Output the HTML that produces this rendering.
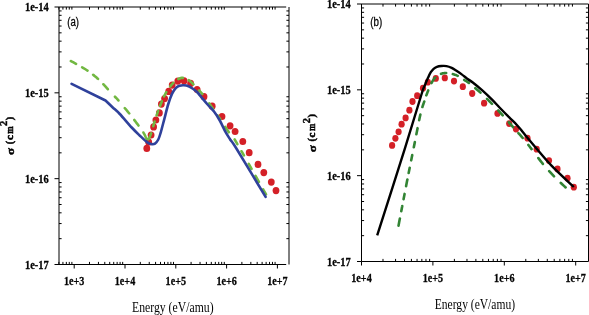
<!DOCTYPE html><html><head><meta charset="utf-8"><style>html,body{margin:0;padding:0;background:#fff;overflow:hidden}svg{display:block}</style></head><body><svg width="589" height="315" viewBox="0 0 589 315"><rect width="589" height="315" fill="#fff"/><g fill="#d42027"><ellipse cx="146.8" cy="148.4" rx="3.4" ry="3.6"/><ellipse cx="148.7" cy="142.2" rx="3.4" ry="3.6"/><ellipse cx="151.1" cy="135.0" rx="3.4" ry="3.6"/><ellipse cx="153.6" cy="126.9" rx="3.4" ry="3.6"/><ellipse cx="155.9" cy="120.0" rx="3.4" ry="3.6"/><ellipse cx="159.4" cy="112.9" rx="3.4" ry="3.6"/><ellipse cx="161.4" cy="104.1" rx="3.4" ry="3.6"/><ellipse cx="164.6" cy="98.6" rx="3.4" ry="3.6"/><ellipse cx="168.7" cy="91.4" rx="3.4" ry="3.6"/><ellipse cx="172.2" cy="85.1" rx="3.4" ry="3.6"/><ellipse cx="177.8" cy="81.1" rx="3.4" ry="3.6"/><ellipse cx="184.1" cy="80.8" rx="3.4" ry="3.6"/><ellipse cx="190.6" cy="83.4" rx="3.4" ry="3.6"/><ellipse cx="197.1" cy="89.5" rx="3.4" ry="3.6"/><ellipse cx="204.0" cy="96.7" rx="3.4" ry="3.6"/><ellipse cx="212.2" cy="106.2" rx="3.4" ry="3.6"/><ellipse cx="222.0" cy="116.5" rx="3.4" ry="3.6"/><ellipse cx="230.1" cy="125.8" rx="3.4" ry="3.6"/><ellipse cx="235.1" cy="131.5" rx="3.4" ry="3.6"/><ellipse cx="242.8" cy="141.5" rx="3.4" ry="3.6"/><ellipse cx="249.2" cy="152.7" rx="3.4" ry="3.6"/><ellipse cx="258.0" cy="164.4" rx="3.4" ry="3.6"/><ellipse cx="263.8" cy="172.6" rx="3.4" ry="3.6"/><ellipse cx="271.3" cy="182.1" rx="3.4" ry="3.6"/><ellipse cx="276.0" cy="190.6" rx="3.4" ry="3.6"/></g><path d="M70.87,61.03L70.95,61.07L71.59,61.42L72.31,61.81L73.08,62.23L73.89,62.68L74.72,63.13L75.55,63.59L76.04,63.86M82.15,67.28L82.21,67.32L83.02,67.79L83.82,68.27L84.61,68.76L85.38,69.25L86.15,69.74L86.91,70.25L87.48,70.63M93.13,74.77L93.21,74.83L93.89,75.38L94.57,75.92L95.24,76.47L95.90,77.03L96.55,77.59L97.20,78.16L97.84,78.73L98.02,78.89M103.39,84.27L103.45,84.33L104.04,84.96L104.62,85.59L105.19,86.21L105.75,86.82L106.29,87.43L106.82,88.04L107.35,88.64L107.80,89.17M114.95,96.72L115.00,96.78L115.70,97.50L116.39,98.22L117.08,98.95L117.75,99.70L118.42,100.46M124.78,108.05L124.79,108.06L125.35,108.73L125.90,109.39L126.44,110.04L126.97,110.69L127.51,111.34L128.06,112.01L128.62,112.70L129.20,113.43L129.22,113.45M134.27,119.92L134.32,119.98L134.99,120.86L135.66,121.75L136.34,122.66L137.05,123.59L137.77,124.56L138.48,125.51M143.45,132.52L143.47,132.56L144.01,133.53L144.51,134.55L144.99,135.56L145.44,136.54L145.88,137.44L146.31,138.23L146.72,138.88L146.75,138.92M148.24,139.43L148.25,139.42L148.62,139.06L148.97,138.53L149.32,137.87L149.66,137.11L149.99,136.28L150.32,135.39L150.65,134.49L150.99,133.59L151.13,133.22M153.25,126.13L153.27,126.04L153.61,124.84L153.96,123.62L154.34,122.40L154.61,121.53M156.61,115.40L156.66,115.23L157.13,113.87L157.60,112.50L158.08,111.14L158.18,110.86M160.09,105.76L160.11,105.70L160.66,104.30L161.21,102.90L161.77,101.51L161.86,101.30M164.03,96.35L164.12,96.17L164.68,95.05L165.24,94.00L165.80,92.99L166.30,92.13M170.20,86.44L170.28,86.34L170.83,85.65L171.38,84.99L171.93,84.36L172.48,83.77L173.03,83.20L173.38,82.85M178.30,79.10L178.37,79.05L178.93,78.77L179.48,78.51L180.02,78.29L180.56,78.12L181.09,77.98L181.61,77.89L182.12,77.84L182.62,77.83L182.86,77.84M188.73,80.15L188.74,80.16L189.24,80.53L189.74,80.94L190.27,81.37L190.81,81.84L191.38,82.34L191.97,82.89L192.58,83.48L193.20,84.11L193.42,84.35M199.06,90.37L199.13,90.44L199.78,91.12L200.43,91.82L201.09,92.54L201.76,93.30L202.30,93.91M209.26,103.37L209.38,103.55L210.21,104.76L211.03,105.96L211.84,107.12L212.62,108.24L213.01,108.80M217.59,115.36L217.63,115.42L218.42,116.57L219.24,117.77L220.09,119.03L220.29,119.33M225.29,126.94L225.35,127.03L226.35,128.55L227.31,129.99L228.21,131.33L228.85,132.26M234.69,139.48L234.70,139.49L236.82,143.10L237.37,144.04M241.52,151.24L241.80,151.73L243.90,155.40M248.74,163.92L249.17,164.68L251.55,168.88M255.49,175.84L255.55,175.95L258.89,181.85M263.07,189.25L263.24,189.54L265.61,193.73L265.98,194.38" stroke="#72b842" stroke-width="2.6" fill="none" stroke-linecap="round"/><path d="M71.60,83.80L105.50,100.50M105.50,100.50C106.67,101.62 110.12,104.95 112.50,107.20C114.88,109.45 116.60,110.62 119.80,114.00C123.00,117.38 128.38,123.92 131.70,127.50C135.02,131.08 137.10,133.02 139.70,135.50C142.30,137.98 145.33,140.97 147.30,142.40C149.27,143.83 150.22,143.90 151.50,144.10C152.78,144.30 153.87,144.37 155.00,143.60C156.13,142.83 157.35,141.33 158.30,139.50C159.25,137.67 159.67,136.13 160.70,132.60C161.73,129.07 163.23,123.07 164.50,118.30C165.77,113.53 167.03,108.12 168.30,104.00C169.57,99.88 170.82,96.28 172.10,93.60C173.38,90.92 174.77,89.22 176.00,87.90C177.23,86.58 178.20,86.15 179.50,85.70C180.80,85.25 182.28,85.12 183.80,85.20C185.32,85.28 187.02,85.57 188.60,86.20C190.18,86.83 191.73,87.87 193.30,89.00C194.87,90.13 196.38,91.30 198.00,93.00C199.62,94.70 201.33,97.20 203.00,99.20C204.67,101.20 206.17,102.95 208.00,105.00C209.83,107.05 212.03,108.92 214.00,111.50C215.97,114.08 217.88,117.10 219.80,120.50C221.72,123.90 223.80,128.78 225.50,131.90C227.20,135.02 228.13,136.35 230.00,139.20C231.87,142.05 230.77,139.38 236.70,149.00C242.63,158.62 260.78,188.92 265.60,196.90" stroke="#2f419b" stroke-width="2.6" fill="none" stroke-linejoin="round" stroke-linecap="round"/><g fill="#d42027"><ellipse cx="392.1" cy="145.4" rx="3.1" ry="3.4"/><ellipse cx="395.4" cy="138.3" rx="3.1" ry="3.4"/><ellipse cx="398.6" cy="131.8" rx="3.1" ry="3.4"/><ellipse cx="401.6" cy="124.2" rx="3.1" ry="3.4"/><ellipse cx="405.6" cy="117.9" rx="3.1" ry="3.4"/><ellipse cx="409.4" cy="110.2" rx="3.1" ry="3.4"/><ellipse cx="412.5" cy="101.5" rx="3.1" ry="3.4"/><ellipse cx="417.2" cy="95.7" rx="3.1" ry="3.4"/><ellipse cx="423.0" cy="88.2" rx="3.1" ry="3.4"/><ellipse cx="427.8" cy="82.2" rx="3.1" ry="3.4"/><ellipse cx="435.8" cy="78.4" rx="3.1" ry="3.4"/><ellipse cx="444.8" cy="77.9" rx="3.1" ry="3.4"/><ellipse cx="454.0" cy="81.1" rx="3.1" ry="3.4"/><ellipse cx="462.8" cy="86.7" rx="3.1" ry="3.4"/><ellipse cx="472.2" cy="93.5" rx="3.1" ry="3.4"/><ellipse cx="484.1" cy="103.2" rx="3.1" ry="3.4"/><ellipse cx="497.5" cy="113.4" rx="3.1" ry="3.4"/><ellipse cx="509.2" cy="123.6" rx="3.1" ry="3.4"/><ellipse cx="516.0" cy="129.1" rx="3.1" ry="3.4"/><ellipse cx="527.5" cy="138.2" rx="3.1" ry="3.4"/><ellipse cx="536.7" cy="149.2" rx="3.1" ry="3.4"/><ellipse cx="549.0" cy="160.6" rx="3.1" ry="3.4"/><ellipse cx="557.5" cy="168.9" rx="3.1" ry="3.4"/><ellipse cx="567.5" cy="178.2" rx="3.1" ry="3.4"/><ellipse cx="573.8" cy="187.2" rx="3.1" ry="3.4"/></g><path d="M398.51,225.72L398.52,225.66L399.06,222.81L399.72,219.33L399.89,218.45M401.27,211.18L401.32,210.94L402.21,206.27L402.26,205.97M403.57,199.15L403.60,199.00L404.53,194.15L404.57,193.94M406.08,186.14L406.16,185.72L407.01,181.37L407.39,179.46M408.67,172.99L408.81,172.28L409.70,167.79M411.19,160.34L411.26,159.95L412.16,155.46L412.23,155.14M413.81,147.25L413.86,146.98L414.64,143.12L414.85,142.05M416.39,134.25L416.43,134.04L417.03,130.97L417.57,128.17M419.14,120.22L419.22,119.86L419.70,117.56L420.18,115.39L420.37,114.55M422.40,107.02L422.42,106.95L422.83,105.70L423.22,104.53L423.61,103.42L423.98,102.33L424.26,101.53M426.32,95.42L426.33,95.41L426.63,94.57L426.93,93.75L427.25,92.92L427.57,92.08L427.92,91.21L428.21,90.46M431.49,83.01L431.50,83.00L431.90,82.28L432.31,81.58L432.72,80.90L433.14,80.24L433.57,79.61L434.00,79.00L434.44,78.43L434.89,77.88L435.18,77.55M440.96,73.84L440.98,73.84L441.51,73.66L442.04,73.51L442.58,73.38L443.13,73.27L443.68,73.18L444.23,73.11L444.79,73.06L445.35,73.02L445.92,73.00L446.17,73.00M452.81,74.06L452.90,74.09L453.52,74.26L454.13,74.45L454.75,74.65L455.37,74.86L455.98,75.09L456.60,75.33L457.20,75.59L457.79,75.85M464.20,79.93L464.29,79.99L464.83,80.33L465.35,80.65L465.87,80.95L466.38,81.27L466.92,81.60L467.50,81.97L468.12,82.40L468.81,82.89L468.90,82.96M475.28,88.12L475.31,88.14L476.51,89.17L477.73,90.22L478.94,91.28L480.14,92.35L480.48,92.65M487.00,98.85L487.09,98.93L488.25,100.08L489.40,101.24L490.55,102.40L491.68,103.55L492.01,103.89M498.21,110.41L498.27,110.48L499.34,111.64L500.40,112.80L501.45,113.94L502.48,115.08L502.73,115.35M508.77,122.16L508.88,122.29L509.81,123.35L510.75,124.43L511.70,125.52L512.67,126.62L513.05,127.05M518.44,133.10L518.59,133.28L519.66,134.47L520.71,135.67L521.74,136.86L522.72,137.99M528.33,144.90L528.38,144.96L529.23,146.05L530.11,147.18L531.02,148.35L531.59,149.08M538.32,158.02L538.39,158.11L539.52,159.61L540.66,161.09L541.79,162.54L542.86,163.87M549.16,171.12L549.21,171.17L550.36,172.43L551.52,173.67L552.68,174.89L553.84,176.10L554.02,176.29M560.79,182.95L560.88,183.03L562.18,184.25L563.39,185.38L564.49,186.40L565.43,187.29L565.61,187.46" stroke="#328434" stroke-width="2.6" fill="none" stroke-linecap="round"/><path d="M377.20,235.30C381.83,220.77 397.65,171.48 405.00,148.10C412.35,124.72 418.02,105.42 421.30,95.00C424.58,84.58 423.58,88.47 424.70,85.60C425.82,82.73 426.98,80.03 428.00,77.80C429.02,75.57 429.87,73.70 430.80,72.20C431.73,70.70 432.58,69.70 433.60,68.80C434.62,67.90 435.62,67.27 436.90,66.80C438.18,66.33 439.70,66.12 441.30,66.00C442.90,65.88 444.77,65.78 446.50,66.10C448.23,66.42 450.10,67.15 451.70,67.90C453.30,68.65 454.43,69.52 456.10,70.60C457.77,71.68 459.85,73.05 461.70,74.40C463.55,75.75 465.35,77.35 467.20,78.70C469.05,80.05 470.28,80.55 472.80,82.50C475.32,84.45 479.13,87.58 482.30,90.40C485.47,93.22 488.85,96.47 491.80,99.40C494.75,102.33 497.13,105.03 500.00,108.00C502.87,110.97 506.15,114.33 509.00,117.20C511.85,120.07 514.60,122.48 517.10,125.20C519.60,127.92 521.02,129.92 524.00,133.50C526.98,137.08 530.42,141.35 535.00,146.70C539.58,152.05 545.03,158.88 551.50,165.60C557.97,172.32 570.08,183.43 573.80,187.00" stroke="#000" stroke-width="2.4" fill="none"/><path d="M54.5,7.0H286.2M59.0,7.0V264.5M59.0,264.5H286.2M289.0,7.0V264.5" stroke="#000" stroke-width="1" fill="none"/><path d="M58.91,264.5v-2.6M58.91,7.0v2.6M62.93,264.5v-2.6M62.93,7.0v2.6M66.33,264.5v-2.6M66.33,7.0v2.6M69.28,264.5v-2.6M69.28,7.0v2.6M71.88,264.5v-2.6M71.88,7.0v2.6M74.20,264.5v4M89.49,264.5v-2.6M89.49,7.0v2.6M98.44,264.5v-2.6M98.44,7.0v2.6M104.78,264.5v-2.6M104.78,7.0v2.6M109.71,264.5v-2.6M109.71,7.0v2.6M113.73,264.5v-2.6M113.73,7.0v2.6M117.13,264.5v-2.6M117.13,7.0v2.6M120.08,264.5v-2.6M120.08,7.0v2.6M122.68,264.5v-2.6M122.68,7.0v2.6M125.00,264.5v4M140.29,264.5v-2.6M140.29,7.0v2.6M149.24,264.5v-2.6M149.24,7.0v2.6M155.58,264.5v-2.6M155.58,7.0v2.6M160.51,264.5v-2.6M160.51,7.0v2.6M164.53,264.5v-2.6M164.53,7.0v2.6M167.93,264.5v-2.6M167.93,7.0v2.6M170.88,264.5v-2.6M170.88,7.0v2.6M173.48,264.5v-2.6M173.48,7.0v2.6M175.80,264.5v4M191.09,264.5v-2.6M191.09,7.0v2.6M200.04,264.5v-2.6M200.04,7.0v2.6M206.38,264.5v-2.6M206.38,7.0v2.6M211.31,264.5v-2.6M211.31,7.0v2.6M215.33,264.5v-2.6M215.33,7.0v2.6M218.73,264.5v-2.6M218.73,7.0v2.6M221.68,264.5v-2.6M221.68,7.0v2.6M224.28,264.5v-2.6M224.28,7.0v2.6M226.60,264.5v4M241.89,264.5v-2.6M241.89,7.0v2.6M250.84,264.5v-2.6M250.84,7.0v2.6M257.18,264.5v-2.6M257.18,7.0v2.6M262.11,264.5v-2.6M262.11,7.0v2.6M266.13,264.5v-2.6M266.13,7.0v2.6M269.53,264.5v-2.6M269.53,7.0v2.6M272.48,264.5v-2.6M272.48,7.0v2.6M275.08,264.5v-2.6M275.08,7.0v2.6M277.40,264.5v4M54.5,264.50H59.0M59.0,238.66h2.6M289.0,238.66h-2.6M59.0,223.55h2.6M289.0,223.55h-2.6M59.0,212.82h2.6M289.0,212.82h-2.6M59.0,204.51h2.6M289.0,204.51h-2.6M59.0,197.71h2.6M289.0,197.71h-2.6M59.0,191.96h2.6M289.0,191.96h-2.6M59.0,186.98h2.6M289.0,186.98h-2.6M59.0,182.59h2.6M289.0,182.59h-2.6M54.5,178.67H59.0M59.0,152.83h2.6M289.0,152.83h-2.6M59.0,137.71h2.6M289.0,137.71h-2.6M59.0,126.99h2.6M289.0,126.99h-2.6M59.0,118.67h2.6M289.0,118.67h-2.6M59.0,111.88h2.6M289.0,111.88h-2.6M59.0,106.13h2.6M289.0,106.13h-2.6M59.0,101.15h2.6M289.0,101.15h-2.6M59.0,96.76h2.6M289.0,96.76h-2.6M54.5,92.83H59.0M59.0,66.99h2.6M289.0,66.99h-2.6M59.0,51.88h2.6M289.0,51.88h-2.6M59.0,41.16h2.6M289.0,41.16h-2.6M59.0,32.84h2.6M289.0,32.84h-2.6M59.0,26.04h2.6M289.0,26.04h-2.6M59.0,20.30h2.6M289.0,20.30h-2.6M59.0,15.32h2.6M289.0,15.32h-2.6M59.0,10.93h2.6M289.0,10.93h-2.6" stroke="#000" stroke-width="1" fill="none"/><path d="M357.0,4.0H588.5M361.5,4.0V261.5M361.5,261.5H588.5M588.5,4.0V261.5" stroke="#000" stroke-width="1" fill="none"/><path d="M361.50,261.5v4M382.99,261.5v-2.6M382.99,4.0v2.6M395.57,261.5v-2.6M395.57,4.0v2.6M404.49,261.5v-2.6M404.49,4.0v2.6M411.41,261.5v-2.6M411.41,4.0v2.6M417.06,261.5v-2.6M417.06,4.0v2.6M421.84,261.5v-2.6M421.84,4.0v2.6M425.98,261.5v-2.6M425.98,4.0v2.6M429.63,261.5v-2.6M429.63,4.0v2.6M432.90,261.5v4M454.39,261.5v-2.6M454.39,4.0v2.6M466.97,261.5v-2.6M466.97,4.0v2.6M475.89,261.5v-2.6M475.89,4.0v2.6M482.81,261.5v-2.6M482.81,4.0v2.6M488.46,261.5v-2.6M488.46,4.0v2.6M493.24,261.5v-2.6M493.24,4.0v2.6M497.38,261.5v-2.6M497.38,4.0v2.6M501.03,261.5v-2.6M501.03,4.0v2.6M504.30,261.5v4M525.79,261.5v-2.6M525.79,4.0v2.6M538.37,261.5v-2.6M538.37,4.0v2.6M547.29,261.5v-2.6M547.29,4.0v2.6M554.21,261.5v-2.6M554.21,4.0v2.6M559.86,261.5v-2.6M559.86,4.0v2.6M564.64,261.5v-2.6M564.64,4.0v2.6M568.78,261.5v-2.6M568.78,4.0v2.6M572.43,261.5v-2.6M572.43,4.0v2.6M575.70,261.5v4M357.0,261.50H361.5M361.5,235.66h2.6M588.5,235.66h-2.6M361.5,220.55h2.6M588.5,220.55h-2.6M361.5,209.82h2.6M588.5,209.82h-2.6M361.5,201.51h2.6M588.5,201.51h-2.6M361.5,194.71h2.6M588.5,194.71h-2.6M361.5,188.96h2.6M588.5,188.96h-2.6M361.5,183.98h2.6M588.5,183.98h-2.6M361.5,179.59h2.6M588.5,179.59h-2.6M357.0,175.67H361.5M361.5,149.83h2.6M588.5,149.83h-2.6M361.5,134.71h2.6M588.5,134.71h-2.6M361.5,123.99h2.6M588.5,123.99h-2.6M361.5,115.67h2.6M588.5,115.67h-2.6M361.5,108.88h2.6M588.5,108.88h-2.6M361.5,103.13h2.6M588.5,103.13h-2.6M361.5,98.15h2.6M588.5,98.15h-2.6M361.5,93.76h2.6M588.5,93.76h-2.6M357.0,89.83H361.5M361.5,63.99h2.6M588.5,63.99h-2.6M361.5,48.88h2.6M588.5,48.88h-2.6M361.5,38.16h2.6M588.5,38.16h-2.6M361.5,29.84h2.6M588.5,29.84h-2.6M361.5,23.04h2.6M588.5,23.04h-2.6M361.5,17.30h2.6M588.5,17.30h-2.6M361.5,12.32h2.6M588.5,12.32h-2.6M361.5,7.93h2.6M588.5,7.93h-2.6" stroke="#000" stroke-width="1" fill="none"/><g fill="#000" style="opacity:0.99;will-change:opacity"><text x="48.8" y="11.3" font-family="Liberation Serif" font-size="12" font-weight="bold" text-anchor="end" textLength="23.8" lengthAdjust="spacingAndGlyphs" stroke="#000" stroke-width="0.3" >1e-14</text><text x="48.8" y="97.13333333333333" font-family="Liberation Serif" font-size="12" font-weight="bold" text-anchor="end" textLength="23.8" lengthAdjust="spacingAndGlyphs" stroke="#000" stroke-width="0.3" >1e-15</text><text x="48.8" y="182.96666666666667" font-family="Liberation Serif" font-size="12" font-weight="bold" text-anchor="end" textLength="23.8" lengthAdjust="spacingAndGlyphs" stroke="#000" stroke-width="0.3" >1e-16</text><text x="48.8" y="268.8" font-family="Liberation Serif" font-size="12" font-weight="bold" text-anchor="end" textLength="23.8" lengthAdjust="spacingAndGlyphs" stroke="#000" stroke-width="0.3" >1e-17</text><text x="350.8" y="8.3" font-family="Liberation Serif" font-size="12" font-weight="bold" text-anchor="end" textLength="23.8" lengthAdjust="spacingAndGlyphs" stroke="#000" stroke-width="0.3" >1e-14</text><text x="350.8" y="94.13333333333333" font-family="Liberation Serif" font-size="12" font-weight="bold" text-anchor="end" textLength="23.8" lengthAdjust="spacingAndGlyphs" stroke="#000" stroke-width="0.3" >1e-15</text><text x="350.8" y="179.96666666666667" font-family="Liberation Serif" font-size="12" font-weight="bold" text-anchor="end" textLength="23.8" lengthAdjust="spacingAndGlyphs" stroke="#000" stroke-width="0.3" >1e-16</text><text x="350.8" y="265.8" font-family="Liberation Serif" font-size="12" font-weight="bold" text-anchor="end" textLength="23.8" lengthAdjust="spacingAndGlyphs" stroke="#000" stroke-width="0.3" >1e-17</text><text x="74.2" y="285.4" font-family="Liberation Serif" font-size="12" font-weight="bold" text-anchor="middle" textLength="20.4" lengthAdjust="spacingAndGlyphs" stroke="#000" stroke-width="0.3" >1e+3</text><text x="125.0" y="285.4" font-family="Liberation Serif" font-size="12" font-weight="bold" text-anchor="middle" textLength="20.4" lengthAdjust="spacingAndGlyphs" stroke="#000" stroke-width="0.3" >1e+4</text><text x="175.8" y="285.4" font-family="Liberation Serif" font-size="12" font-weight="bold" text-anchor="middle" textLength="20.4" lengthAdjust="spacingAndGlyphs" stroke="#000" stroke-width="0.3" >1e+5</text><text x="226.59999999999997" y="285.4" font-family="Liberation Serif" font-size="12" font-weight="bold" text-anchor="middle" textLength="20.4" lengthAdjust="spacingAndGlyphs" stroke="#000" stroke-width="0.3" >1e+6</text><text x="277.4" y="285.4" font-family="Liberation Serif" font-size="12" font-weight="bold" text-anchor="middle" textLength="20.4" lengthAdjust="spacingAndGlyphs" stroke="#000" stroke-width="0.3" >1e+7</text><text x="361.5" y="282.3" font-family="Liberation Serif" font-size="12" font-weight="bold" text-anchor="middle" textLength="20.4" lengthAdjust="spacingAndGlyphs" stroke="#000" stroke-width="0.3" >1e+4</text><text x="432.9" y="282.3" font-family="Liberation Serif" font-size="12" font-weight="bold" text-anchor="middle" textLength="20.4" lengthAdjust="spacingAndGlyphs" stroke="#000" stroke-width="0.3" >1e+5</text><text x="504.3" y="282.3" font-family="Liberation Serif" font-size="12" font-weight="bold" text-anchor="middle" textLength="20.4" lengthAdjust="spacingAndGlyphs" stroke="#000" stroke-width="0.3" >1e+6</text><text x="575.7" y="282.3" font-family="Liberation Serif" font-size="12" font-weight="bold" text-anchor="middle" textLength="20.4" lengthAdjust="spacingAndGlyphs" stroke="#000" stroke-width="0.3" >1e+7</text><text x="172.8" y="311.7" font-family="Liberation Serif" font-size="14" font-weight="normal" text-anchor="middle" textLength="81.5" lengthAdjust="spacingAndGlyphs" >Energy (eV/amu)</text><text x="474.9" y="309.0" font-family="Liberation Serif" font-size="14" font-weight="normal" text-anchor="middle" textLength="80.2" lengthAdjust="spacingAndGlyphs" >Energy (eV/amu)</text><text x="67.3" y="26.0" font-family="Liberation Sans" font-size="12" font-weight="normal" text-anchor="start" textLength="11.7" lengthAdjust="spacingAndGlyphs" stroke="#000" stroke-width="0.3">(a)</text><text x="370.3" y="25.6" font-family="Liberation Sans" font-size="12" font-weight="normal" text-anchor="start" textLength="11.9" lengthAdjust="spacingAndGlyphs" stroke="#000" stroke-width="0.3">(b)</text><g transform="translate(12.6,155.3) rotate(-90)" font-family="Liberation Serif" font-weight="bold" stroke="#000" stroke-width="0.45"><text x="0.3" y="1.0" font-size="11.2" transform="scale(1.15,1)">&#963;</text><text x="11.0" y="0" font-size="10.2">(</text><text x="15.2" y="0" font-size="11" stroke-width="0.6">c</text><text x="21.5" y="0" font-size="10.8" stroke-width="0.5" textLength="7.4" lengthAdjust="spacingAndGlyphs">m</text><text x="29.4" y="-5.6" font-size="10.4">2</text><text x="35.1" y="0" font-size="10.2">)</text></g><g transform="translate(315.3,152.6) rotate(-90)" font-family="Liberation Serif" font-weight="bold" stroke="#000" stroke-width="0.45"><text x="0.3" y="1.0" font-size="11.2" transform="scale(1.15,1)">&#963;</text><text x="11.0" y="0" font-size="10.2">(</text><text x="15.2" y="0" font-size="11" stroke-width="0.6">c</text><text x="21.5" y="0" font-size="10.8" stroke-width="0.5" textLength="7.4" lengthAdjust="spacingAndGlyphs">m</text><text x="29.4" y="-5.6" font-size="10.4">2</text><text x="35.1" y="0" font-size="10.2">)</text></g></g></svg></body></html>
